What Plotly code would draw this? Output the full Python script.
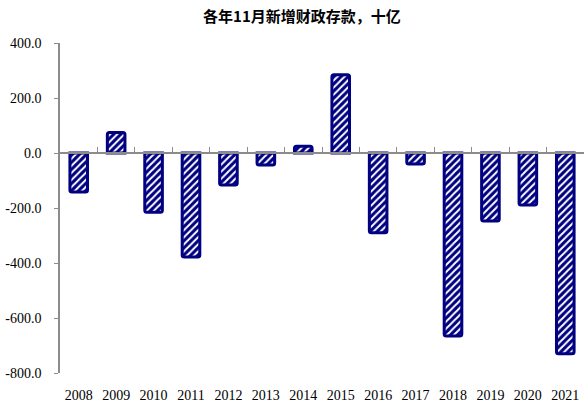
import plotly.graph_objects as go

years = ["2008", "2009", "2010", "2011", "2012", "2013", "2014",
         "2015", "2016", "2017", "2018", "2019", "2020", "2021"]
values = [-142, 75, -215, -378, -116, -44, 25,
          285, -290, -40, -665, -247, -189, -730]
y_ticks = [400, 200, 0, -200, -400, -600, -800]
y_tick_text = ["400.0", "200.0", "0.0", "-200.0", "-400.0", "-600.0", "-800.0"]

navy = "#000080"
grey = "#8c8c8c"
serif = "Liberation Serif, Times New Roman, serif"

fig = go.Figure()
fig.add_trace(go.Bar(
    x=years, y=values, width=0.47,
    marker=dict(
        color=navy,
        line=dict(color=navy, width=3),
        cornerradius=2,
        pattern=dict(shape="/", fillmode="replace", bgcolor=navy,
                     fgcolor="white", size=5, solidity=0.4),
    ),
    xaxis="x", yaxis="y",
))
# invisible trace on the second x-axis so it draws the zero-line ticks
fig.add_trace(go.Bar(x=years, y=[0] * len(years), xaxis="x2", yaxis="y",
                     marker=dict(color="rgba(0,0,0,0)"), hoverinfo="skip",
                     showlegend=False))

ymin, ymax = -800, 400
zero_pos = (0 - ymin) / (ymax - ymin)

fig.update_layout(
    width=584, height=405,
    margin=dict(l=60, r=0, t=43, b=32),
    paper_bgcolor="white", plot_bgcolor="white",
    showlegend=False,
    barmode="overlay",
    title=dict(text="<b>各年11月新增财政存款，十亿</b>",
               x=0.517, xanchor="center", y=0.958, yanchor="middle",
               font=dict(family="Noto Sans CJK SC", size=15, color="black")),
    xaxis=dict(type="category", categoryorder="array", categoryarray=years,
               showline=False, showgrid=False, zeroline=False, ticks="",
               ticklabelstandoff=12,
               tickfont=dict(family=serif, size=14, color="black")),
    xaxis2=dict(type="category", categoryorder="array", categoryarray=years,
                overlaying="x", anchor="free", position=zero_pos, side="bottom",
                showline=True, linecolor=grey, linewidth=1.5,
                ticks="inside", ticklen=5, tickcolor=grey, tickwidth=1,
                tickson="boundaries", showticklabels=False, showgrid=False,
                zeroline=False),
    yaxis=dict(range=[ymin, ymax], tickvals=y_ticks, ticktext=y_tick_text,
               showline=True, linecolor=grey, linewidth=1.5,
               ticks="outside", ticklen=4, tickcolor=grey,
               showgrid=False, zeroline=False, ticklabelstandoff=10,
               tickfont=dict(family=serif, size=14, color="black")),
)

fig.write_html("out.html")
